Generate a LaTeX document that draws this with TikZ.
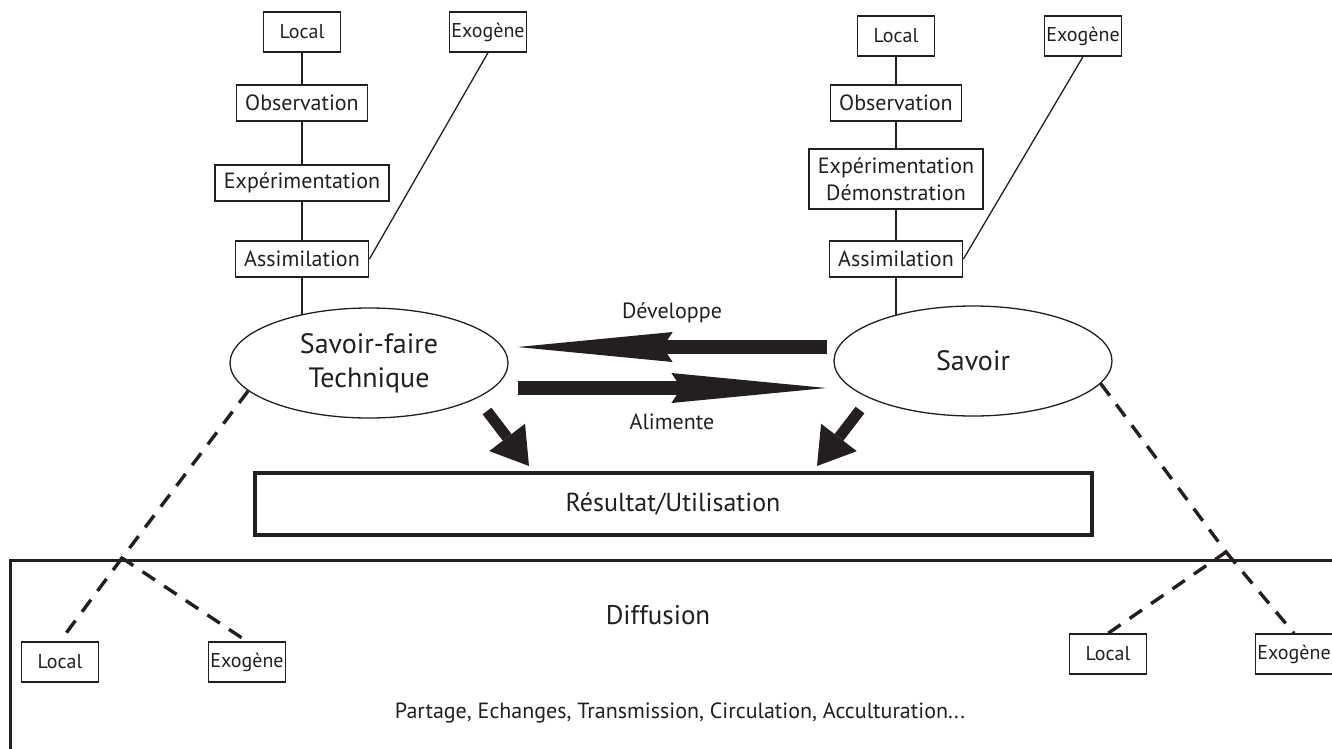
\documentclass[tikz,border=0pt]{standalone}
\usepackage{fontspec}
\setmainfont{PT Sans}
\usetikzlibrary{shapes.geometric,arrows.meta,calc,backgrounds}
\definecolor{ink}{RGB}{35,31,32}

\begin{document}
\begin{tikzpicture}[x=1pt,y=-1pt,
  every node/.style={text=ink},
  petit/.style={draw=ink,line width=1.3pt,minimum width=77pt,minimum height=40pt,inner sep=0pt,font=\fontsize{20}{24}\selectfont},
  etape/.style={draw=ink,line width=1.3pt,minimum height=36pt,inner xsep=9pt,inner ysep=0pt,font=\fontsize{22}{27}\selectfont},
  bulle/.style={ellipse,draw=ink,fill=white,line width=1.3pt,minimum width=278pt,minimum height=110pt,inner sep=0pt,align=center,font=\fontsize{28}{34}\selectfont},
  lien/.style={draw=ink,line width=1.3pt},
  tiret/.style={draw=ink,line width=3.4pt,dash pattern=on 15pt off 11pt},
  fleche/.style={draw=ink,line width=14pt,-{Stealth[length=155pt,width=30pt,inset=10pt,line width=0pt]}},
  grosse/.style={draw=ink,line width=11pt,-{Triangle[length=36pt,width=45pt,line width=0pt]}},
]
\useasboundingbox (0,0) rectangle (1332,748);

% colonne gauche
\node[petit] (lloc) at (302,32) {Local};
\node[etape] (lobs) at (302,103) {Observation};
\node[etape] (lexp) at (302,183) {Expérimentation};
\node[etape] (lass) at (302,259) {Assimilation};
\node[petit] (lexo) at (488,32) {Exogène};

% colonne droite
\node[petit] (rloc) at (896,36) {Local};
\node[etape] (robs) at (896,103) {Observation};
\node[etape,line width=2.5pt,minimum height=60pt,align=center] (rexp) at (896,179) {Expérimentation\\Démonstration};
\node[etape] (rass) at (896,259) {Assimilation};
\node[petit] (rexo) at (1083,36) {Exogène};

% les deux savoirs
\node[bulle] (sf) at (369,363) {Savoir-faire\\Technique};
\node[bulle] (sv) at (973,361) {Savoir};

\node[font=\fontsize{22}{26}\selectfont] (dev) at (672,313) {Développe};
\node[font=\fontsize{22}{26}\selectfont] (ali) at (672,422) {Alimente};
\draw[fleche] ($(sv.west)+(-6,-14)$) -- ($(sf.east)+(9,-16)$);
\draw[fleche] ($(sf.east)+(9,25)$) -- ($(sv.west)+(-7,27)$);

\node[draw=ink,line width=4pt,minimum width=837pt,minimum height=62pt,font=\fontsize{26}{30}\selectfont] (res) at (673,504) {Résultat/Utilisation};
\draw[grosse] ($(sf.center)+(118,48)$) -- ($(res.north)+(-144,-5)$);
\draw[grosse] ($(sv.center)+(-113,49)$) -- ($(res.north)+(144,-5)$);

% diffusion
\draw[ink,line width=3pt] (10,760) -- (10,560) -- (1345,560);
\node[font=\fontsize{27}{32}\selectfont] (diff) at (658,615) {Diffusion};
\node[font=\fontsize{22}{26}\selectfont] (part) at (680,713) {Partage, Echanges, Transmission, Circulation, Acculturation...};

\node[petit] (bloca) at (60,662) {Local};
\node[petit] (bexoa) at (247,662) {Exogène};
\node[petit] (blocb) at (1108,654) {Local};
\node[petit] (bexob) at (1294,654) {Exogène};

\coordinate (lv) at (122,558);
\coordinate (rv) at (1226,552);
\draw[tiret] (sf.193) -- (lv) -- (bexoa.north);
\draw[tiret] (lv) -- (bloca.north);
\draw[tiret] (sv.350) -- (rv) -- (blocb.north);
\draw[tiret] (rv) -- (bexob.north);

\begin{scope}[on background layer]
\draw[lien] (lloc) -- (lobs) -- (lexp) -- (lass) -- (lass.south |- sf.center);
\draw[lien] (lexo.south) -- (lass.east);
\draw[lien] (rloc) -- (robs) -- (rexp) -- (rass) -- (rass.south |- sv.center);
\draw[lien] (rexo.south) -- (rass.east);
\end{scope}
\end{tikzpicture}
\end{document}
